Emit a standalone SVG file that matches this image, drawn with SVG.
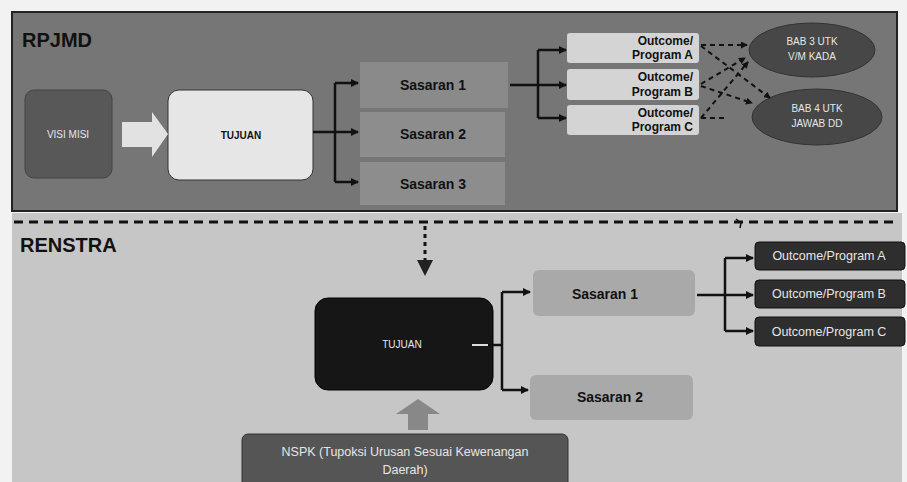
<svg xmlns="http://www.w3.org/2000/svg" width="907" height="482" viewBox="0 0 907 482">
<defs>
<style>
.ttl{font-family:"Liberation Sans",Arial,sans-serif;font-weight:bold;font-size:20px;fill:#111}
.sas{font-family:"Liberation Sans",Arial,sans-serif;font-weight:bold;font-size:14px;fill:#111;text-anchor:middle}
.oc{font-family:"Liberation Sans",Arial,sans-serif;font-weight:bold;font-size:12px;fill:#111;text-anchor:end}
.wt{font-family:"Liberation Sans",Arial,sans-serif;font-size:10px;fill:#e6e6e6;text-anchor:middle}
.wt2{font-family:"Liberation Sans",Arial,sans-serif;font-size:12.5px;fill:#e6e6e6;text-anchor:middle}
.bk{font-family:"Liberation Sans",Arial,sans-serif;font-weight:bold;font-size:10px;fill:#111;text-anchor:middle}
.ln{fill:none;stroke:#111;stroke-width:2.5}
.dl{fill:none;stroke:#111;stroke-width:2;stroke-dasharray:5 4}
</style>
<marker id="ah" markerWidth="8" markerHeight="8" refX="7" refY="4" orient="auto" markerUnits="userSpaceOnUse" viewBox="0 0 8 8">
<path d="M0,0 L8,4 L0,8 z" fill="#111"/>
</marker>
<marker id="ahs" markerWidth="7" markerHeight="7" refX="6" refY="3.5" orient="auto" markerUnits="userSpaceOnUse" viewBox="0 0 7 7">
<path d="M0,0 L7,3.5 L0,7 z" fill="#111"/>
</marker>
</defs>
<rect width="907" height="482" fill="#f2f2f2"/>
<rect x="12" y="12" width="885" height="199" fill="#767676" stroke="#222" stroke-width="2"/>
<rect x="12" y="213" width="890" height="269" fill="#c6c6c6"/>
<text class="ttl" x="22" y="47">RPJMD</text>
<text class="ttl" x="20" y="252">RENSTRA</text>

<g id="visimisi">
<rect x="25" y="90" width="87" height="88" rx="9" fill="#585858" stroke="#444"/>
<text class="wt" x="68" y="138">VISI MISI</text>
</g>
<g id="tujuan-top">
<rect x="168" y="90" width="145" height="90" rx="11" fill="#e6e6e6" stroke="#333"/>
<text class="bk" x="241" y="139">TUJUAN</text>
</g>
<g id="sasaran-top-1">
<rect x="360" y="62" width="148" height="46" fill="#8a8a8a"/>
<text class="sas" x="433" y="90">Sasaran 1</text>
</g>
<g id="sasaran-top-2">
<rect x="360" y="112" width="145" height="45" fill="#8d8d8d"/>
<text class="sas" x="433" y="139">Sasaran 2</text>
</g>
<g id="sasaran-top-3">
<rect x="360" y="162" width="145" height="43" fill="#8d8d8d"/>
<text class="sas" x="433" y="189">Sasaran 3</text>
</g>
<g id="outcome-top-a">
<rect x="567" y="33" width="132" height="30" rx="3" fill="#d4d4d4"/>
<text class="oc" x="693" y="45">Outcome/</text>
<text class="oc" x="693" y="59">Program A</text>
</g>
<g id="outcome-top-b">
<rect x="567" y="69" width="132" height="31" rx="3" fill="#d4d4d4"/>
<text class="oc" x="693" y="81">Outcome/</text>
<text class="oc" x="693" y="96">Program B</text>
</g>
<g id="outcome-top-c">
<rect x="567" y="105" width="132" height="30" rx="3" fill="#d4d4d4"/>
<text class="oc" x="693" y="117">Outcome/</text>
<text class="oc" x="693" y="131">Program C</text>
</g>
<g id="bab3">
<ellipse cx="812" cy="50" rx="63" ry="27" fill="#474747" stroke="#333"/>
<text class="wt" x="812" y="45">BAB 3 UTK</text>
<text class="wt" x="812" y="60">V/M KADA</text>
</g>
<g id="bab4">
<ellipse cx="817" cy="117" rx="65" ry="28" fill="#474747" stroke="#333"/>
<text class="wt" x="817" y="112">BAB 4 UTK</text>
<text class="wt" x="817" y="127">JAWAB DD</text>
</g>

<g id="tujuan-bottom">
<rect x="315" y="298" width="178" height="92" rx="13" fill="#161616" stroke="#000"/>
<text class="wt" x="402" y="348">TUJUAN</text>
</g>
<g id="sasaran-bottom-1">
<rect x="533" y="270" width="162" height="46" rx="6" fill="#a9a9a9"/>
<text class="sas" x="605" y="299">Sasaran 1</text>
</g>
<g id="sasaran-bottom-2">
<rect x="530" y="375" width="163" height="45" rx="6" fill="#a9a9a9"/>
<text class="sas" x="610" y="402">Sasaran 2</text>
</g>
<g id="outcome-bottom-a">
<rect x="755" y="242" width="150" height="28" rx="4" fill="#2e2e2e" stroke="#111"/>
<text class="wt2" x="829" y="260">Outcome/Program A</text>
</g>
<g id="outcome-bottom-b">
<rect x="755" y="280" width="150" height="28" rx="4" fill="#2e2e2e" stroke="#111"/>
<text class="wt2" x="829" y="298">Outcome/Program B</text>
</g>
<g id="outcome-bottom-c">
<rect x="755" y="317" width="150" height="29" rx="4" fill="#2e2e2e" stroke="#111"/>
<text class="wt2" x="829" y="336">Outcome/Program C</text>
</g>
<g id="nspk">
<rect x="242" y="434" width="326" height="60" rx="6" fill="#555" stroke="#333"/>
<text class="wt" style="font-size:12.5px" x="405" y="456">NSPK (Tupoksi Urusan Sesuai Kewenangan</text>
<text class="wt" style="font-size:12.5px" x="405" y="474">Daerah)</text>
</g>

<g id="connectors">
<path d="M122,122 H152 V112 L168,134 L152,157 V147 H122 z" fill="#e2e2e2"/>
<path class="ln" d="M313,132 H335 M335,83 V182"/>
<path class="ln" d="M335,83 H358" marker-end="url(#ah)"/>
<path class="ln" d="M335,132 H358" marker-end="url(#ah)"/>
<path class="ln" d="M335,182 H358" marker-end="url(#ah)"/>
<path class="ln" d="M510,85 H538 M538,50 V118"/>
<path class="ln" d="M538,50 H566" marker-end="url(#ah)"/>
<path class="ln" d="M538,85 H566" marker-end="url(#ah)"/>
<path class="ln" d="M538,118 H566" marker-end="url(#ah)"/>
<path class="dl" d="M701,45 H747" marker-end="url(#ahs)"/>
<path class="dl" d="M701,46 L770,98" stroke-dasharray="3 3" marker-end="url(#ahs)"/>
<path class="dl" d="M701,84 L745,58" marker-end="url(#ahs)"/>
<path class="dl" d="M701,86 L752,103" marker-end="url(#ahs)"/>
<path class="dl" d="M701,118 L748,62" marker-end="url(#ahs)"/>
<path class="dl" d="M701,118 H728"/>
<path d="M14,222 H895" stroke="#111" stroke-width="3" stroke-dasharray="9 6"/>
<path d="M736,219 L741,223 L740,228" fill="none" stroke="#111" stroke-width="1.5"/>
<path d="M425,226 V262" stroke="#111" stroke-width="3" stroke-dasharray="4 4"/>
<path d="M417,260 L433,260 L425,276 z" fill="#222"/>
<path d="M472,345 H502" stroke="#dcdcdc" stroke-width="2"/>
<path class="ln" d="M488,345 H502 M502,292 V390"/>
<path class="ln" d="M502,292 H530" marker-end="url(#ah)"/>
<path class="ln" d="M502,390 H528" marker-end="url(#ah)"/>
<path class="ln" d="M697,295 H725 M725,258 V331"/>
<path class="ln" d="M725,258 H753" marker-end="url(#ah)"/>
<path class="ln" d="M725,295 H753" marker-end="url(#ah)"/>
<path class="ln" d="M725,331 H753" marker-end="url(#ah)"/>
<path d="M408,430 V414 H396 L418,399 L440,414 H428 V430 z" fill="#888"/>
</g>
</svg>
